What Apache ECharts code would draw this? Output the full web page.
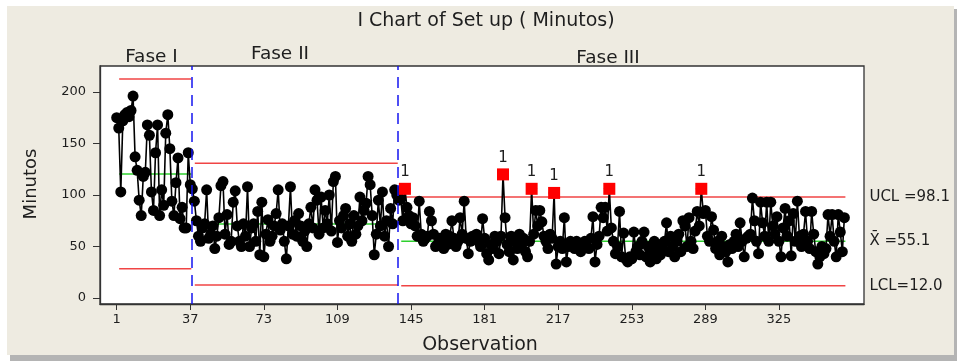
<!DOCTYPE html>
<html><head><meta charset="utf-8">
<script src="https://cdn.jsdelivr.net/npm/echarts@6/dist/echarts.min.js"></script>
<style>html,body{margin:0;padding:0;background:#fff;}#c{width:959px;height:362px;}</style>
</head><body><div id="c"></div>
<script>
// ---- data ----
const phase1 = [175,165,103,172,178,180,176,182,196,137,
  124,95,80,118,122,168,158,103,85,141,
  168,80,105,90,160,178,145,94,80,112,
  136,77,88,68,68,141,110];
const phase2 = [106,94,75,60,55,68,72,105,58,62,70,48,60,
  78,109,113,62,81,52,55,93,104,70,
  55,50,72,60,108,50,68,72,55,84,
  42,93,40,62,76,55,60,70,82,105,
  66,72,55,38,70,108,62,75,60,82,
  70,55,65,50,72,88,68,105,95,62,
  98,68,85,72,100,65,113,118,54,75,
  68,80,87,60,72,55,80,62,70,98,
  75,85,92,118,110,80,42,62,95,70,
  103,60,75,50,87,72,105,100];
const phase3 = [95,96,75,106,88,80,72,78,70,60,
  94,62,55,58,60,84,75,62,50,52,
  58,55,48,62,52,60,75,58,50,55,
  78,62,94,58,43,55,60,57,62,55,
  50,77,58,43,37,52,48,60,55,43,
  60,120,78,52,45,60,37,55,48,62,
  50,58,45,40,55,106,62,85,70,85,
  74,60,55,48,62,58,102,33,50,55,
  48,78,35,50,55,52,48,55,50,45,
  52,55,50,48,58,79,35,52,60,88,
  78,88,65,106,68,55,43,50,84,40,
  63,38,35,40,38,64,45,50,42,55,
  64,40,50,35,45,55,38,52,42,48,
  55,73,45,60,50,40,55,62,45,75,
  70,50,78,55,48,65,84,70,106,82,
  85,60,55,79,66,48,55,42,60,50,
  45,35,52,48,55,62,50,73,55,40,
  58,60,62,97,75,55,43,93,73,60,
  93,55,93,70,62,79,55,40,68,87,
  60,75,41,82,55,94,60,50,62,84,
  55,48,84,62,45,33,40,50,43,48,
  81,60,81,55,40,81,64,45,78];
const phaseNames = ['Fase I','Fase II','Fase III'];
const uclValues = [212.6, 130.8, 98.1];
const centerValues = [120.4, 71.8, 55.1];
const lclValues = [28.4, 12.6, 12.0];
const limitLabels = ['UCL =98.1', 'X\u0304 =55.1', 'LCL=12.0'];
const xTicks = [1,37,73,109,145,181,217,253,289,325];
const yTicks = [0,50,100,150,200];
const chartTitle = 'I Chart of Set up ( Minutos)';
const xName = 'Observation';
const yName = 'Minutos';

// ---- build ----
const phases = [phase1, phase2, phase3];
const allData = [];
const ranges = [];
const flagged = [];
let obs = 1;
phases.forEach((arr, p) => {
  const first = obs;
  arr.forEach(v => {
    allData.push([obs, v]);
    if (v > uclValues[p] || v < lclValues[p]) flagged.push([obs, v]);
    obs++;
  });
  ranges.push([first, obs - 1]);
});

const FONT = '"DejaVu Sans", Verdana, sans-serif';
const TXT = '#1e1e1e';
const RED = '#F04444';
const GREEN = '#2ED02E';

const series = [];
ranges.forEach((r, p) => {
  const s = r[0] + 1.2, e = r[1] + 0.5;
  const defs = [[uclValues[p], RED, 0], [centerValues[p], GREEN, 1], [lclValues[p], RED, 2]];
  defs.forEach(([v, col, k]) => {
    const ser = {
      type: 'line', data: [[s, v], [e, v]], symbol: 'none', silent: true, z: 1,
      lineStyle: { color: col, width: 1.5 }
    };
    if (p === 2) {
      ser.endLabel = { show: true, formatter: limitLabels[k], distance: 24,
        fontSize: 15, fontFamily: FONT, color: TXT };
    }
    series.push(ser);
  });
});

series.push({
  type: 'line', data: allData, z: 3,
  symbol: 'circle', symbolSize: 11,
  itemStyle: { color: '#000' },
  lineStyle: { color: '#000', width: 1.6 },
  markLine: {
    silent: true, symbol: 'none', label: { show: false },
    lineStyle: { color: '#1414F0', width: 1.5, type: [11, 7] },
    data: ranges.slice(0, 2).map(r => ({ xAxis: r[1] + 0.5 }))
  }
});
series.push({
  type: 'scatter', data: flagged, z: 4,
  symbol: 'rect', symbolSize: 12,
  itemStyle: { color: '#FF0000', opacity: 1 },
  label: { show: true, position: 'top', distance: 3, formatter: '1',
    fontSize: 15, fontFamily: FONT, color: TXT }
});

const phaseLabelPos = [[151.5, 57], [280, 54], [608, 58]];
const graphic = [
  { type: 'rect', z: -20, shape: { x: 10, y: 9, width: 947, height: 352 }, style: { fill: '#B4B4B4' } },
  { type: 'rect', z: -19, shape: { x: 7, y: 6, width: 947, height: 349 }, style: { fill: '#EEEBE1' } },
  { type: 'text', z: 20, x: 486, y: 21, style: { text: chartTitle, font: '19px ' + FONT, fill: TXT, textAlign: 'center', textVerticalAlign: 'middle' } },
  { type: 'text', z: 20, x: 480, y: 345, style: { text: xName, font: '19px ' + FONT, fill: TXT, textAlign: 'center', textVerticalAlign: 'middle' } },
  { type: 'text', z: 20, x: 31, y: 184, rotation: Math.PI / 2, style: { text: yName, font: '18px ' + FONT, fill: TXT, textAlign: 'center', textVerticalAlign: 'middle' } }
];
phaseNames.forEach((n, i) => {
  graphic.push({ type: 'text', z: 20, x: phaseLabelPos[i][0], y: phaseLabelPos[i][1],
    style: { text: n, font: '18.5px ' + FONT, fill: TXT, textAlign: 'center', textVerticalAlign: 'middle' } });
});

const chart = echarts.init(document.getElementById('c'), null, { renderer: 'canvas' });
chart.setOption({
  animation: false,
  backgroundColor: '#fff',
  graphic: graphic,
  grid: { left: 100, top: 66, width: 764, height: 238, show: true,
    backgroundColor: '#fff', borderColor: '#333', borderWidth: 1.3 },
  xAxis: {
    type: 'value', min: -7.17, max: 366.6,
    axisLine: { show: true, onZero: false, lineStyle: { color: '#333', width: 1.3 } },
    axisTick: { show: true, customValues: xTicks, length: 6, lineStyle: { color: '#333' } },
    axisLabel: { customValues: xTicks, fontSize: 13, fontFamily: FONT, color: TXT, margin: 9 },
    splitLine: { show: false }
  },
  yAxis: {
    type: 'value', min: -5.8, max: 225.2,
    axisLine: { show: true, onZero: false, lineStyle: { color: '#333', width: 1.3 } },
    axisTick: { show: true, customValues: yTicks, length: 7, lineStyle: { color: '#333' } },
    axisLabel: { customValues: yTicks, fontSize: 13, fontFamily: FONT, color: TXT, margin: 14 },
    splitLine: { show: false }
  },
  series: series
});
</script></body></html>
